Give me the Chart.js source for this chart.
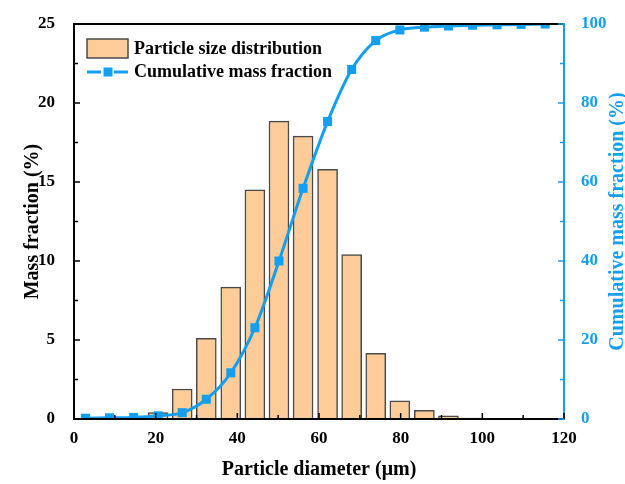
<!DOCTYPE html>
<html>
<head>
<meta charset="utf-8">
<script src="https://cdn.jsdelivr.net/npm/chart.js@4.4.1/dist/chart.umd.min.js"></script>
<style>
  html, body { margin: 0; padding: 0; background: #fff; }
</style>
</head>
<body>
<canvas id="psdChart" width="625" height="484"></canvas>
<script>
// particle diameter (um) of each size class
const diameters = [2.8, 8.7, 14.6, 20.6, 26.5, 32.4, 38.4, 44.3, 50.2, 56.1,
                   62.1, 68.0, 73.9, 79.8, 85.8, 91.7, 97.6, 103.6, 109.5, 115.4];
// mass fraction (%) per class, left axis
const massFraction = [0, 0, 0, 0.4, 1.9, 5.1, 8.35, 14.5, 18.85, 17.9,
                      15.8, 10.4, 4.15, 1.15, 0.55, 0.2, 0.06, 0, 0, 0];
// cumulative mass fraction (%), right axis
const cumulative = [0.2, 0.3, 0.4, 0.8, 1.6, 5.0, 11.7, 23.1, 40.0, 58.4,
                    75.3, 88.5, 95.8, 98.5, 99.2, 99.5, 99.7, 99.8, 99.9, 100];

const xMajor = [0, 20, 40, 60, 80, 100, 120];
const xMinor = [10, 30, 50, 70, 90, 110];
const yMajor = [0, 5, 10, 15, 20, 25];
const yMinor = [2.5, 7.5, 12.5, 17.5, 22.5];
const y1Major = [0, 20, 40, 60, 80, 100];
const y1Minor = [10, 30, 50, 70, 90];
const y1Title = 'Cumulative mass fraction (%)';

const BLUE = '#139ff0';
const BAR_FILL = '#fdcc99';
const BAR_EDGE = '#4a4a4a';
const FONT = "'Liberation Serif', 'Times New Roman', serif";

// frame, inward tick marks, right title and the legend
const framePlugin = {
  id: 'framePlugin',
  afterDatasetsDraw(chart) {
    const ctx = chart.ctx;
    const a = chart.chartArea;
    const sx = chart.scales.x, sy = chart.scales.y, sy1 = chart.scales.y1;
    ctx.save();
    ctx.lineCap = 'butt';

    // axis lines
    ctx.lineWidth = 2;
    ctx.strokeStyle = '#000';
    ctx.beginPath();
    ctx.moveTo(a.right, a.top); ctx.lineTo(a.left, a.top);
    ctx.lineTo(a.left, a.bottom); ctx.lineTo(a.right, a.bottom);
    ctx.stroke();
    ctx.strokeStyle = BLUE;
    ctx.beginPath();
    ctx.moveTo(a.right, a.top - 1); ctx.lineTo(a.right, a.bottom + 1);
    ctx.stroke();

    // ticks pointing into the plot
    ctx.lineWidth = 1.5;
    ctx.strokeStyle = '#000';
    const tickX = (vals, len) => {
      vals.forEach(v => {
        const px = sx.getPixelForValue(v);
        ctx.beginPath(); ctx.moveTo(px, a.bottom); ctx.lineTo(px, a.bottom - len); ctx.stroke();
      });
    };
    tickX(xMajor, 6); tickX(xMinor, 4);
    const tickY = (vals, len) => {
      vals.forEach(v => {
        const py = sy.getPixelForValue(v);
        ctx.beginPath(); ctx.moveTo(a.left, py); ctx.lineTo(a.left + len, py); ctx.stroke();
      });
    };
    tickY(yMajor, 6); tickY(yMinor, 4);
    ctx.strokeStyle = BLUE;
    const tickY1 = (vals, len) => {
      vals.forEach(v => {
        const py = sy1.getPixelForValue(v);
        ctx.beginPath(); ctx.moveTo(a.right, py); ctx.lineTo(a.right - len, py); ctx.stroke();
      });
    };
    tickY1(y1Major, 6); tickY1(y1Minor, 4);

    // right axis title, read bottom to top like the left one
    ctx.save();
    ctx.translate(618, (a.top + a.bottom) / 2);
    ctx.rotate(-Math.PI / 2);
    ctx.fillStyle = BLUE;
    ctx.font = 'bold 20px ' + FONT;
    ctx.textAlign = 'center';
    ctx.textBaseline = 'middle';
    ctx.fillText(y1Title, 0, 0);
    ctx.restore();

    // legend
    const ds = chart.data.datasets;
    const lx = a.left + 13;
    ctx.fillStyle = BAR_FILL;
    ctx.strokeStyle = BAR_EDGE;
    ctx.lineWidth = 1.5;
    ctx.fillRect(lx, 39, 41, 19);
    ctx.strokeRect(lx, 39, 41, 19);
    ctx.fillStyle = '#000';
    ctx.font = 'bold 18px ' + FONT;
    ctx.textBaseline = 'middle';
    ctx.textAlign = 'left';
    ctx.fillText(ds[0].label, lx + 47, 49);

    ctx.strokeStyle = BLUE;
    ctx.lineWidth = 3;
    ctx.beginPath();
    ctx.moveTo(lx, 72); ctx.lineTo(lx + 14, 72);
    ctx.moveTo(lx + 27, 72); ctx.lineTo(lx + 41, 72);
    ctx.stroke();
    ctx.fillStyle = BLUE;
    ctx.fillRect(lx + 16.5, 67.5, 9, 9);
    ctx.fillStyle = '#000';
    ctx.fillText(ds[1].label, lx + 47, 72);
    ctx.restore();
  }
};

const barPoints = [];
diameters.forEach((d, i) => {
  if (massFraction[i] > 0) barPoints.push({x: d, y: massFraction[i]});
});
const linePoints = diameters.map((d, i) => ({x: d, y: cumulative[i]}));

const ctx = document.getElementById('psdChart').getContext('2d');
new Chart(ctx, {
  data: {
    datasets: [
      {
        type: 'bar',
        label: 'Particle size distribution',
        data: barPoints,
        xAxisID: 'x',
        yAxisID: 'y',
        backgroundColor: BAR_FILL,
        borderColor: BAR_EDGE,
        borderWidth: 1.5,
        borderSkipped: 'bottom',
        barThickness: 20,
        order: 2
      },
      {
        type: 'line',
        label: 'Cumulative mass fraction',
        data: linePoints,
        xAxisID: 'x',
        yAxisID: 'y1',
        borderColor: BLUE,
        backgroundColor: BLUE,
        borderWidth: 3,
        cubicInterpolationMode: 'monotone',
        pointStyle: 'rect',
        pointRadius: 6.4,
        pointBorderWidth: 0,
        order: 1
      }
    ]
  },
  options: {
    responsive: false,
    animation: false,
    layout: { padding: { top: 24, left: 0, right: 0, bottom: 0 } },
    plugins: {
      legend: { display: false },
      tooltip: { enabled: false }
    },
    scales: {
      x: {
        type: 'linear',
        position: 'bottom',
        offset: false,
        min: 0, max: 120,
        grid: { display: false, offset: false },
        border: { display: false },
        ticks: {
          stepSize: 20, padding: 1, color: '#000',
          font: { family: FONT, size: 17, weight: 'bold' }
        },
        title: {
          display: true, text: 'Particle diameter (μm)', color: '#000',
          font: { family: FONT, size: 20, weight: 'bold' },
          padding: { top: 0, bottom: 2 }
        },
        afterFit(scale) { scale.height = 65; }
      },
      y: {
        position: 'left',
        min: 0, max: 25,
        grid: { display: false },
        border: { display: false },
        ticks: {
          stepSize: 5, padding: 11, color: '#000',
          font: { family: FONT, size: 17, weight: 'bold' }
        },
        title: {
          display: true, text: 'Mass fraction (%)', color: '#000',
          font: { family: FONT, size: 20, weight: 'bold' },
          padding: { top: 21, bottom: 0 }
        },
        afterFit(scale) { scale.width = 74; }
      },
      y1: {
        position: 'right',
        min: 0, max: 100,
        grid: { display: false },
        border: { display: false },
        ticks: {
          stepSize: 20, padding: 9, color: BLUE,
          font: { family: FONT, size: 17, weight: 'bold' }
        },
        afterFit(scale) { scale.width = 61; }
      }
    }
  },
  plugins: [framePlugin]
});
</script>
</body>
</html>
